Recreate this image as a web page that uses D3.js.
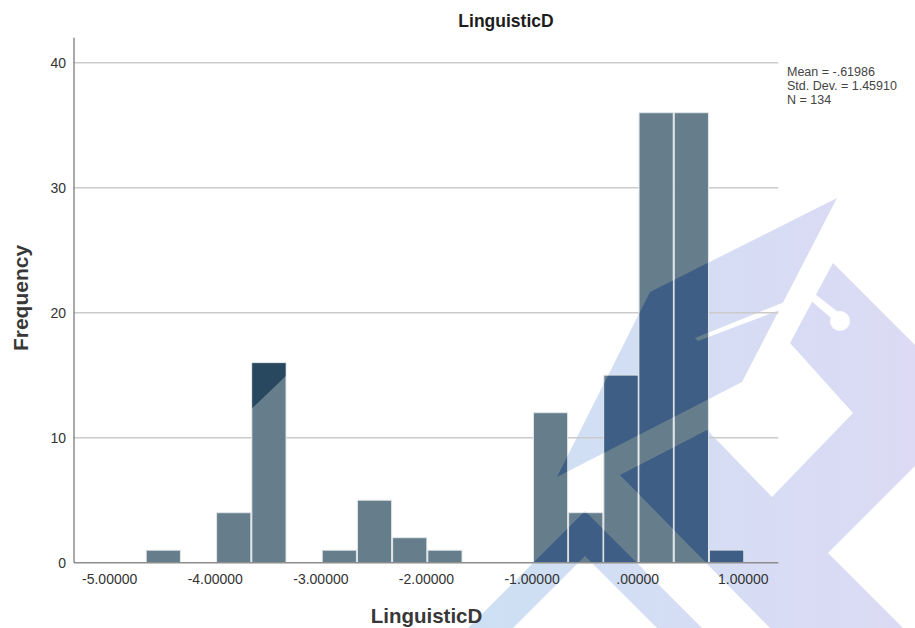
<!DOCTYPE html>
<html>
<head>
<meta charset="utf-8">
<script src="https://cdn.jsdelivr.net/npm/d3@7"></script>
<style>
  html, body { margin: 0; padding: 0; background: #ffffff; }
  svg { display: block; font-family: Arial, "Liberation Sans", sans-serif; }
</style>
</head>
<body>
<svg id="chart" width="915" height="628"></svg>
<script>
// Histogram of LinguisticD: 17 bins of width 1/3 starting at -4.654
const binStart = -4.654;
const binWidth = 1 / 3;
const counts = [1, 0, 4, 16, 0, 1, 5, 2, 1, 0, 0, 12, 4, 15, 36, 36, 1];

const xTicks = [-5, -4, -3, -2, -1, 0, 1];
const xTickLabels = ["-5.00000", "-4.00000", "-3.00000", "-2.00000", "-1.00000", ".00000", "1.00000"];
const yTicks = [0, 10, 20, 30, 40];
const gridValues = [10, 20, 30, 40];
const statsLines = ["Mean = -.61986", "Std. Dev. = 1.45910", "N = 134"];

const bins = counts.map((c, i) => ({
  x0: binStart + i * binWidth,
  x1: binStart + (i + 1) * binWidth,
  count: c
})).filter(d => d.count > 0);

const svg = d3.select("#chart");
const W = 915, H = 628;

const x = d3.scaleLinear().domain([-5.333, 1.336]).range([74, 778.3]);
const y = d3.scaleLinear().domain([0, 42]).range([562.7, 37.7]);

// ---- background logo watermark (decoration, pixel space) ----
const logoFill = [
  [[557, 477], [650, 292], [837, 198], [742, 382]],                       // cap
  [[585, 511], [702, 628], [657, 628], [585, 556], [513, 628], [468, 628]], // chevron
  [[620, 475], [707, 430], [772, 497], [853, 413], [790, 343], [833, 263],
   [915, 345], [915, 466], [828, 553], [903, 628], [770, 628]]              // body
];
const logoCut = [
  [[695, 338], [787, 301], [790, 306], [698, 341]],                         // cord
  [[808, 298], [815, 294], [838, 312], [831, 318]]                          // tassel stem
];
const shadeArea = [[0, 0], [362, 0], [345, 64], [334, 330], [221, 438], [0, 628]];

const defs = svg.append("defs");
const grad = defs.append("linearGradient").attr("id", "logoGrad")
  .attr("gradientUnits", "userSpaceOnUse")
  .attr("x1", 470).attr("y1", 0).attr("x2", 915).attr("y2", 0);
grad.append("stop").attr("offset", 0).attr("stop-color", "#cde0f3");
grad.append("stop").attr("offset", 1).attr("stop-color", "#dcdaf4");

const mask = defs.append("mask").attr("id", "logoMask")
  .attr("maskUnits", "userSpaceOnUse")
  .attr("x", 0).attr("y", 0).attr("width", W).attr("height", H);
mask.append("rect").attr("width", W).attr("height", H).attr("fill", "#000");
logoFill.forEach(p => mask.append("polygon").attr("points", p.join(" ")).attr("fill", "#fff"));
logoCut.forEach(p => mask.append("polygon").attr("points", p.join(" ")).attr("fill", "#000"));
mask.append("circle").attr("cx", 840).attr("cy", 321).attr("r", 10).attr("fill", "#000");

svg.append("rect").attr("width", W).attr("height", H).attr("fill", "#ffffff");
svg.append("rect").attr("width", W).attr("height", H)
  .attr("fill", "url(#logoGrad)").attr("mask", "url(#logoMask)");

// ---- gridlines ----
svg.append("g").selectAll("line").data(gridValues).join("line")
  .attr("x1", x.range()[0]).attr("x2", x.range()[1])
  .attr("y1", d => y(d)).attr("y2", d => y(d))
  .attr("stroke", "#cbcbcb").attr("stroke-width", 1.5);

// ---- bars ----
svg.append("g").selectAll("rect").data(bins).join("rect")
  .attr("x", d => x(d.x0) + 0.5)
  .attr("width", d => x(d.x1) - x(d.x0) - 1)
  .attr("y", d => y(d.count))
  .attr("height", d => y(0) - y(d.count))
  .attr("fill", "#667e8c")
  .attr("stroke", "#e2e7ea").attr("stroke-width", 1);

// watermark darkening where it crosses the bars
const clip = defs.append("clipPath").attr("id", "barClip");
clip.selectAll("rect").data(bins).join("rect")
  .attr("x", d => x(d.x0) + 1)
  .attr("width", d => x(d.x1) - x(d.x0) - 2)
  .attr("y", d => y(d.count) + 0.5)
  .attr("height", d => y(0) - y(d.count) - 0.5);

const over = svg.append("g").attr("clip-path", "url(#barClip)");
over.append("rect").attr("width", W).attr("height", H)
  .attr("fill", "#3e5e85").attr("mask", "url(#logoMask)");
over.append("polygon").attr("points", shadeArea.join(" ")).attr("fill", "#27485e");

// ---- axes ----
const xAxis = d3.axisBottom(x).tickValues(xTicks)
  .tickFormat((d, i) => xTickLabels[i]).tickSize(0).tickPadding(11.5);
const gx = svg.append("g").attr("transform", `translate(0,${y(0)})`).call(xAxis);
gx.select(".domain").remove();
gx.selectAll("text").attr("font-size", 14).attr("fill", "#333").attr("font-family", null);

const yAxis = d3.axisLeft(y).tickValues(yTicks).tickSize(0).tickPadding(8);
const gy = svg.append("g").attr("transform", `translate(${x.range()[0]},0)`).call(yAxis);
gy.select(".domain").remove();
gy.selectAll("text").attr("font-size", 14).attr("fill", "#333").attr("font-family", null);

svg.append("line")
  .attr("x1", x.range()[0]).attr("x2", x.range()[1])
  .attr("y1", y(0)).attr("y2", y(0))
  .attr("stroke", "#8e8e8e").attr("stroke-width", 1.5);
svg.append("line")
  .attr("x1", x.range()[0]).attr("x2", x.range()[0])
  .attr("y1", y.range()[1]).attr("y2", y(0))
  .attr("stroke", "#555").attr("stroke-width", 1);

// ---- titles ----
svg.append("text").attr("x", 506).attr("y", 27)
  .attr("text-anchor", "middle").attr("font-size", 17.5).attr("font-weight", "bold")
  .attr("fill", "#1c1c1c").text("LinguisticD");

svg.append("text").attr("x", 426.5).attr("y", 623)
  .attr("text-anchor", "middle").attr("font-size", 20.5).attr("font-weight", "bold")
  .attr("fill", "#383838").text("LinguisticD");

svg.append("text").attr("transform", "translate(21,298) rotate(-90)")
  .attr("text-anchor", "middle").attr("dy", "0.35em")
  .attr("font-size", 21).attr("font-weight", "bold")
  .attr("fill", "#383838").text("Frequency");

// ---- summary statistics ----
svg.append("g").selectAll("text").data(statsLines).join("text")
  .attr("x", 787).attr("y", (d, i) => 76 + i * 14)
  .attr("font-size", 12.5).attr("fill", "#444").text(d => d);
</script>
</body>
</html>
